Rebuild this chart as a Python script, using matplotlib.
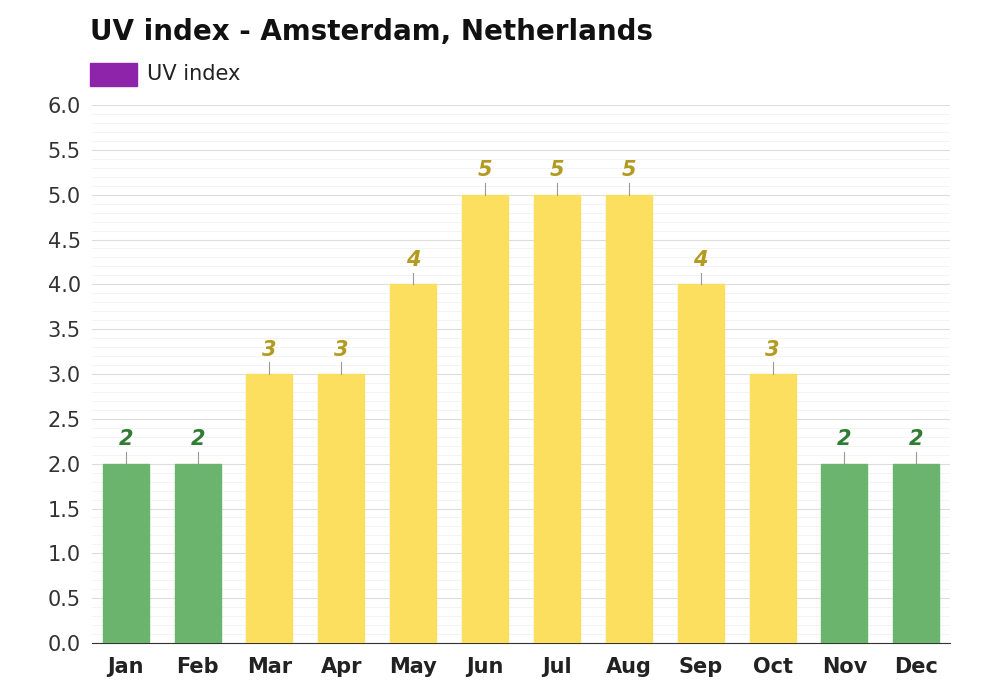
import matplotlib
matplotlib.use("Agg")
import matplotlib.pyplot as plt
import numpy as np
from matplotlib.patches import Rectangle

months = ["Jan","Feb","Mar","Apr","May","Jun","Jul","Aug","Sep","Oct","Nov","Dec"]
uv = [2,2,3,3,4,5,5,5,4,3,2,2]

fig = plt.figure(figsize=(10,7), dpi=100)
ax = fig.add_axes([0.092, 0.0814, 0.858, 0.7686])
x = np.arange(len(months))
cols = ["#6ab46e" if v <= 2 else "#fcdf5f" for v in uv]
lcols = ["#2e7d32" if v <= 2 else "#b39b22" for v in uv]
ax.bar(x, uv, width=0.64, color=cols, edgecolor=cols, zorder=3)
for xi, v, lc in zip(x, uv, lcols):
    ax.plot([xi, xi], [v, v+0.13], color="#999999", lw=0.8, zorder=3)
    ax.text(xi, v+0.16, str(v), ha="center", va="bottom", fontsize=15,
            fontstyle="italic", fontweight="bold", color=lc)
ax.set_xlim(-0.47, 11.47)
ax.set_ylim(0, 6)
ax.set_yticks(np.arange(0, 6.01, 0.5))
ax.set_yticklabels([f"{t:.1f}" for t in np.arange(0, 6.01, 0.5)], fontsize=15, color="#333333")
ax.set_yticks(np.arange(0, 6.01, 0.1), minor=True)
ax.set_xticks(x)
ax.set_xticklabels(months, fontsize=15, fontweight="bold", color="#222222")
ax.grid(axis="y", which="major", color="#dddddd", lw=0.8, zorder=0)
ax.grid(axis="y", which="minor", color="#f2f2f2", lw=0.6, zorder=0)
ax.tick_params(axis="both", which="both", length=0)
ax.tick_params(axis="x", pad=10)
ax.tick_params(axis="y", pad=8)
for s in ["top","right","left"]:
    ax.spines[s].set_visible(False)
ax.spines["bottom"].set_color("#333333")
fig.text(0.09, 0.955, "UV index - Amsterdam, Netherlands", fontsize=20, fontweight="bold",
         va="center", ha="left", color="#111111")
fig.patches.append(Rectangle((0.09, 0.877), 0.047, 0.033, transform=fig.transFigure,
                             color="#8e24aa", figure=fig))
fig.text(0.147, 0.894, "UV index", fontsize=15, va="center", ha="left", color="#222222")
fig.savefig("out.png", dpi=100, facecolor="white")
